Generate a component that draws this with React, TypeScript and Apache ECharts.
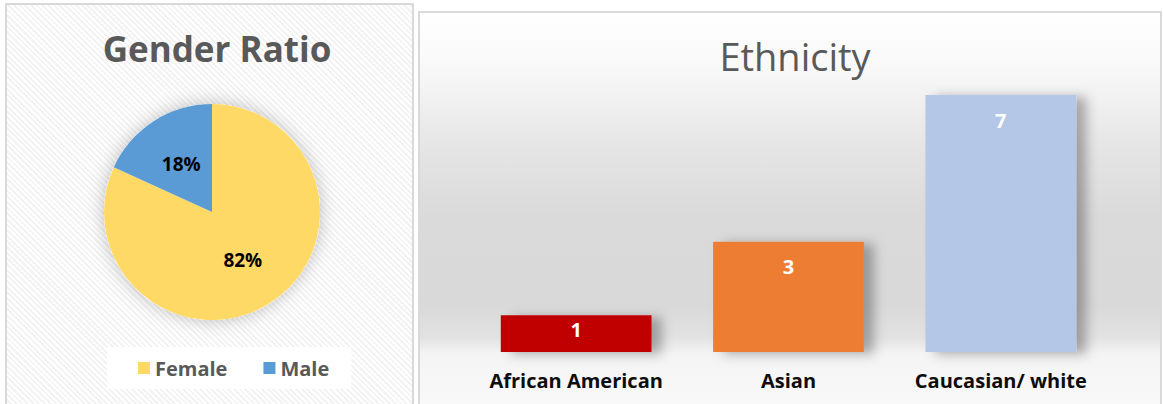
import React, { useEffect, useRef } from "react";
import * as echarts from "echarts";

const genderNames = ["Female", "Male"];
const genderValues = [9, 2];
const genderColors = ["#FFD966", "#5B9BD5"];

const ethnicities = ["African American", "Asian", "Caucasian/ white"];
const ethnicityValues = [1, 3, 7];
const ethnicityColors = ["#C00000", "#ED7D31", "#B4C7E7"];

const FONT = "'Open Sans', Lato, sans-serif";

export default function App() {
  const ref = useRef<HTMLDivElement>(null);

  useEffect(() => {
    if (!ref.current) return;
    const chart = echarts.init(ref.current, undefined, { renderer: "svg" });
    chart.setOption({
      animation: false,
      backgroundColor: "transparent",
      textStyle: { fontFamily: FONT },
      title: [
        {
          text: "Gender Ratio",
          left: 212,
          top: 26,
          textAlign: "center",
          textStyle: { fontFamily: FONT, fontSize: 35, fontWeight: "bold", color: "#595959" },
        },
        {
          text: "Ethnicity",
          left: 790,
          top: 32,
          textAlign: "center",
          textStyle: { fontFamily: FONT, fontSize: 38, fontWeight: "normal", color: "#595959" },
        },
      ],
      legend: {
        data: genderNames,
        left: 107,
        top: 347,
        orient: "horizontal",
        backgroundColor: "#ffffff",
        padding: [11, 22, 11, 31],
        itemGap: 36,
        itemWidth: 12,
        itemHeight: 12,
        icon: "rect",
        textStyle: { fontFamily: FONT, fontSize: 20, fontWeight: "bold", color: "#595959" },
      },
      graphic: [
        {
          type: "circle",
          z: 0,
          shape: { cx: 212, cy: 212, r: 108 },
          style: { fill: "#ffffff", shadowBlur: 18, shadowColor: "rgba(0,0,0,0.25)" },
        },
      ],
      grid: { left: 470, right: 56, top: 95, bottom: 52 },
      xAxis: {
        type: "category",
        data: ethnicities,
        axisLine: { show: false },
        axisTick: { show: false },
        axisLabel: {
          interval: 0,
          margin: 18,
          fontFamily: FONT,
          fontSize: 20,
          fontWeight: "bold",
          color: "#0d0d0d",
        },
      },
      yAxis: { type: "value", min: 0, max: 7, show: false, splitLine: { show: false } },
      series: [
        {
          type: "pie",
          center: [212, 212],
          radius: 108,
          startAngle: 90,
          clockwise: true,
          percentPrecision: 0,
          data: genderNames.map((n, i) => ({
            name: n,
            value: genderValues[i],
            itemStyle: { color: genderColors[i] },
          })),
          label: {
            show: true,
            position: "inside",
            formatter: "{d}%",
            fontFamily: FONT,
            fontSize: 19,
            fontWeight: "bold",
            color: "#000000",
          },
          labelLine: { show: false },
          emphasis: { disabled: true },
        },
        {
          type: "bar",
          barCategoryGap: "29%",
          data: ethnicityValues.map((v, i) => ({
            value: v,
            itemStyle: { color: ethnicityColors[i] },
            label: { distance: v <= 1 ? 4 : 15 },
          })),
          itemStyle: {
            shadowColor: "rgba(0,0,0,0.3)",
            shadowBlur: 12,
            shadowOffsetX: 10,
            shadowOffsetY: 2,
          },
          label: {
            show: true,
            position: "insideTop",
            fontFamily: FONT,
            fontSize: 20,
            fontWeight: "bold",
            color: "#ffffff",
          },
          emphasis: { disabled: true },
        },
      ],
    });
    return () => chart.dispose();
  }, []);

  return (
    <div
      style={{
        position: "fixed",
        left: 0,
        top: 0,
        width: 1163,
        height: 404,
        overflow: "hidden",
        background: "#ffffff",
      }}
    >
      <div
        style={{
          position: "absolute",
          left: 5,
          top: 3,
          width: 409,
          height: 420,
          border: "2px solid #d9d9d9",
          boxSizing: "border-box",
          background:
            "repeating-linear-gradient(45deg, #ffffff 0px, #ffffff 2px, #f3f3f3 2px, #f3f3f3 4px)",
        }}
      />
      <div
        style={{
          position: "absolute",
          left: 418,
          top: 11,
          width: 744,
          height: 410,
          border: "2px solid #d9d9d9",
          boxSizing: "border-box",
          background:
            "linear-gradient(to bottom, #ffffff 0%, #f8f8f8 14%, #e6e6e6 32%, #dadada 50%, #d9d9d9 72%, #e2e2e2 80%, #f4f4f4 84%, #fafafa 100%)",
        }}
      />
      <div ref={ref} style={{ position: "absolute", left: 0, top: 0, width: 1163, height: 404 }} />
    </div>
  );
}
